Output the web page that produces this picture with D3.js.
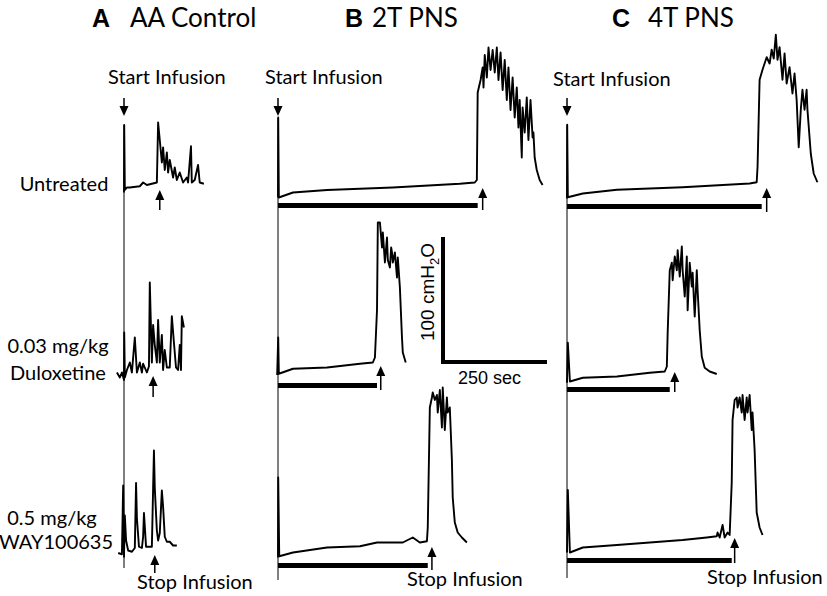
<!DOCTYPE html>
<html>
<head>
<meta charset="utf-8">
<script src="https://cdn.jsdelivr.net/npm/d3@7"></script>
<style>
body{margin:0;background:#fff;}
</style>
</head>
<body>
<script>

// panel titles and row labels
var panelLetters = ["A","B","C"];
var panelTitles = ["AA Control","2T PNS","4T PNS"];
var rowLabels = [["Untreated"],["0.03 mg/kg","Duloxetine"],["0.5 mg/kg","WAY100635"]];

// bladder pressure traces: [time (sec from start of infusion), pressure (cmH2O)]
var aUntreated = [[0,10],[0.5,64],[2,12],[7,14],[14,14],[38,15],[46,18],[55,16],[79,18],[82,66],[86,52],[91,34],[94,46],[98,28],[103,42],[106,26],[110,36],[118,22],[122,30],[127,20],[134,26],[142,18],[151,22],[154,18],[161,47],[163,18],[170,20],[178,32],[182,18],[192,17]];
var aDulox = [[-17,10],[-10,6],[-5,10],[0,4],[0.5,42],[2,6],[7,12],[14,18],[19,10],[26,38],[31,10],[38,18],[43,10],[46,17],[55,10],[60,15],[62,82],[67,18],[70,48],[74,32],[79,18],[82,52],[86,18],[91,40],[94,12],[98,28],[103,14],[110,14],[115,55],[120,34],[125,14],[130,12],[134,32],[137,12],[139,55],[144,46]];
var aWay = [[-14,8],[-5,7],[-2,62],[0,5],[2,38],[5,18],[10,10],[19,9],[26,12],[29,64],[31,36],[36,13],[43,12],[46,21],[48,40],[53,13],[60,13],[67,13],[70,60],[72,90],[74,60],[79,26],[82,18],[86,24],[91,58],[94,45],[98,21],[103,17],[110,17],[118,14],[127,14]];

var bUntreated = [[0,6],[0.5,70],[2,6],[36,10],[118,12],[276,14],[437,17],[473,18],[478,20],[480,90],[487,100],[492,110],[494,94],[497,120],[502,102],[506,126],[511,108],[516,124],[521,106],[526,126],[530,100],[535,122],[540,92],[545,116],[550,84],[554,110],[559,76],[564,102],[569,70],[574,94],[578,62],[581,84],[586,38],[588,78],[593,58],[598,86],[602,52],[607,84],[612,54],[614,58],[617,38],[622,28],[629,20],[636,16]];
var bDulox = [[-2,8],[0.5,38],[2,9],[36,13],[118,14],[197,17],[228,18],[233,22],[238,60],[240,130],[245,130],[250,110],[252,122],[257,98],[262,118],[264,100],[269,94],[272,110],[274,106],[276,98],[281,106],[286,86],[288,102],[293,78],[298,38],[300,26],[307,18]];
var bWay = [[0,6],[0.5,70],[3,7],[36,10],[118,14],[197,15],[238,18],[276,18],[300,18],[324,22],[341,18],[358,19],[360,30],[365,126],[370,134],[372,138],[377,132],[382,136],[384,122],[389,140],[394,110],[396,142],[401,108],[406,134],[408,122],[413,126],[418,84],[420,54],[425,34],[432,26],[442,22],[454,18]];

var cUntreated = [[0,6],[0.5,65],[2,7],[38,10],[120,13],[278,15],[439,18],[456,19],[458,31],[463,101],[470,109],[480,119],[487,114],[492,125],[497,118],[502,137],[506,117],[511,127],[518,101],[523,122],[528,98],[535,111],[542,90],[547,106],[552,85],[557,47],[562,77],[566,93],[571,77],[576,93],[578,77],[586,42],[593,26],[602,19]];
var cDulox = [[0,5],[2,37],[7,6],[38,9],[120,10],[199,13],[235,14],[240,18],[242,45],[247,95],[252,101],[254,87],[259,106],[264,95],[266,111],[271,90],[276,114],[278,95],[283,74],[288,106],[290,63],[295,101],[300,82],[302,93],[307,58],[312,95],[314,79],[319,47],[324,26],[331,17],[343,14],[360,12]];
var cWay = [[0,6],[2,56],[7,6],[38,10],[120,12],[199,14],[278,16],[336,18],[360,19],[362,22],[367,18],[374,28],[379,18],[386,22],[391,20],[396,62],[398,112],[403,128],[408,130],[410,122],[415,130],[420,118],[422,132],[427,112],[432,130],[434,118],[439,132],[444,104],[446,118],[451,88],[456,38],[463,26],[470,20]];

var traces = [[aUntreated,aDulox,aWay],[bUntreated,bDulox,bWay],[cUntreated,cDulox,cWay]];

// infusion period (bar) end and stop-infusion arrow time, sec
var infusionEnd = [[null,null,null],[480,238,360],[468,247,396]];
var stopTimes = [[86,70,74],[492,247,370],[480,259,403]];

// calibration bar
var scaleSec = 250;
var scaleCm = 100;

// ---- layout ----
var width = 827, height = 596;
var panelX0 = [124, 278, 567];
var rowY0 = [[205,385,563],[205,385,565],[206,389,560]];
var secPx = 104, cmPx = 125;
var stopArrowY = [[[190,210],[376,397],[555,573]],[[188,210],[366,390],[547,570]],[[188,212],[372,392],[538,563]]];
var markerLine = [[125,568],[118,580],[125,578]];
var startText = [[108,84],[265,84],[553,86]];
var stopText = [[137,589],[407,586],[707,584]];
var titleX = [[92,130],[345,372],[612,648]];
var labelPos = [[[64,191]],[[58,353],[58,380]],[[52,525],[56,549]]];

var svg = d3.select("body").append("svg")
    .attr("width", width)
    .attr("height", height)
    .style("font-family", "Lato, 'Open Sans', sans-serif");

function arrow(x, yHead, yTail) {
  var dir = yHead < yTail ? 1 : -1;
  var hl = 10, hw = 4.5;
  svg.append("line")
    .attr("x1", x).attr("x2", x)
    .attr("y1", yTail).attr("y2", yHead + dir*hl*0.8)
    .attr("stroke", "black").attr("stroke-width", 1.5);
  svg.append("path")
    .attr("d", "M" + x + "," + yHead + "L" + (x-hw) + "," + (yHead + dir*hl) + "L" + (x+hw) + "," + (yHead + dir*hl) + "Z")
    .attr("fill", "black");
}

panelLetters.forEach(function(letter, p) {
  var x = d3.scaleLinear().domain([0, 250]).range([panelX0[p], panelX0[p] + secPx]);

  // titles
  svg.append("text")
    .attr("x", titleX[p][0]).attr("y", 27)
    .text(letter)
    .attr("font-family", "'Liberation Sans', Arial, sans-serif")
    .attr("font-weight", "bold")
    .attr("font-size", "25px");
  svg.append("text")
    .attr("x", titleX[p][1]).attr("y", 27)
    .text(panelTitles[p])
    .attr("font-size", "26px");

  // start of infusion line
  svg.append("line")
    .attr("x1", x(0)).attr("x2", x(0))
    .attr("y1", markerLine[p][0]).attr("y2", markerLine[p][1])
    .attr("stroke", "black").attr("stroke-width", 1);

  svg.append("text")
    .attr("x", startText[p][0]).attr("y", startText[p][1])
    .text("Start Infusion")
    .attr("font-size", "20px");
  arrow(x(0), 116, 98);

  svg.append("text")
    .attr("x", stopText[p][0]).attr("y", stopText[p][1])
    .text("Stop Infusion")
    .attr("font-size", "20px");

  traces[p].forEach(function(tr, r) {
    var y0 = rowY0[p][r];
    var y = d3.scaleLinear().domain([0, 100]).range([y0, y0 - cmPx]);
    var line = d3.line().x(function(d){return x(d[0]);}).y(function(d){return y(d[1]);});

    svg.append("path")
      .datum(tr)
      .attr("d", line)
      .attr("fill", "none")
      .attr("stroke", "black")
      .attr("stroke-width", 1.9)
      .attr("stroke-linejoin", "round");

    if (infusionEnd[p][r] != null) {
      svg.append("rect")
        .attr("x", x(0))
        .attr("y", y0 - 2)
        .attr("width", x(infusionEnd[p][r]) - x(0))
        .attr("height", 5)
        .attr("fill", "black");
    }

    arrow(x(stopTimes[p][r]), stopArrowY[p][r][0], stopArrowY[p][r][1]);
  });
});

// row labels
rowLabels.forEach(function(lines, r) {
  lines.forEach(function(l, i) {
    svg.append("text")
      .attr("x", labelPos[r][i][0]).attr("y", labelPos[r][i][1])
      .attr("text-anchor", "middle")
      .text(l)
      .attr("font-size", "20px");
  });
});

// calibration bar (uses the same scales as the traces)
var cx = d3.scaleLinear().domain([0, 250]).range([443, 443 + secPx]);
var cy = d3.scaleLinear().domain([0, 100]).range([362, 362 - cmPx]);
svg.append("path")
  .attr("d", "M" + cx(0) + "," + cy(scaleCm) + "L" + cx(0) + "," + cy(0) + "L" + cx(scaleSec) + "," + cy(0))
  .attr("fill", "none")
  .attr("stroke", "black")
  .attr("stroke-width", 4);

var vlab = svg.append("text")
  .attr("transform", "translate(434,292) rotate(-90)")
  .attr("text-anchor", "middle")
  .attr("font-family", "'Liberation Sans', Arial, sans-serif")
  .attr("font-size", "19px");
vlab.append("tspan").text(scaleCm + " cmH");
vlab.append("tspan").attr("font-size", "13px").attr("dy", 5).text("2");
vlab.append("tspan").attr("dy", -5).text("O");

svg.append("text")
  .attr("x", 458).attr("y", 384)
  .attr("font-family", "'Liberation Sans', Arial, sans-serif")
  .attr("font-size", "18px")
  .text(scaleSec + " sec");

</script>
</body>
</html>
